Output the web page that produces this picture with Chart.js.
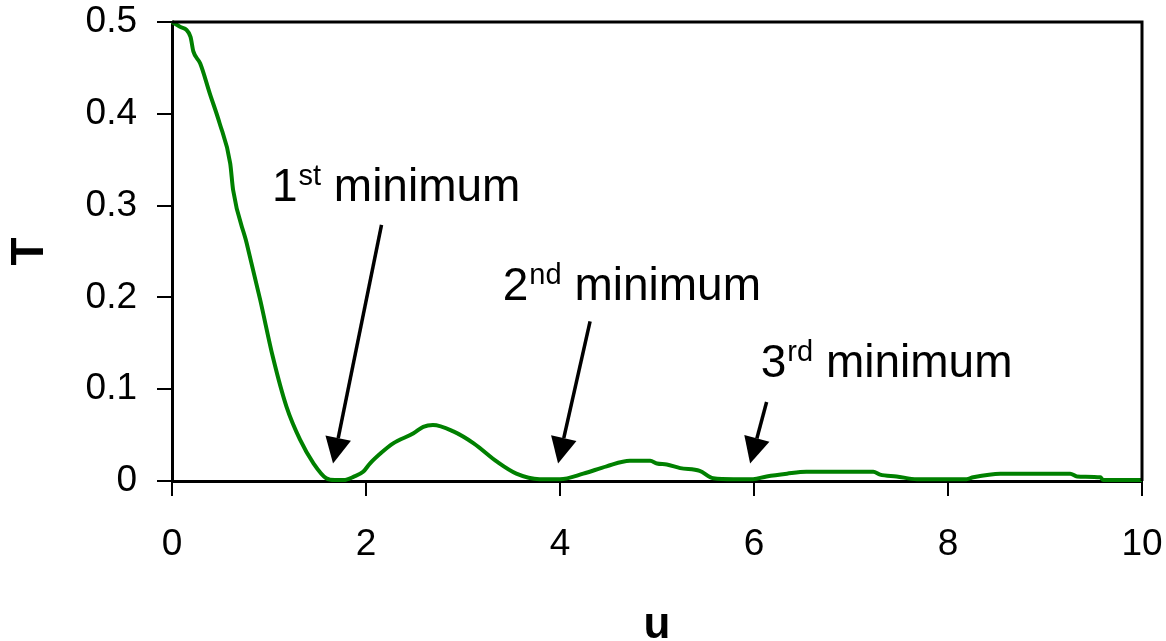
<!DOCTYPE html>
<html>
<head>
<meta charset="utf-8">
<script src="https://cdn.jsdelivr.net/npm/chart.js@4.4.1/dist/chart.umd.min.js"></script>
<style>
  body { margin: 0; background: #fff; }
  #wrap { width: 1166px; height: 641px; }
</style>
</head>
<body>
<div id="wrap"><canvas id="myChart"></canvas></div>
<script>
// curve
const uValues = [0, 0.08, 0.19, 0.22, 0.29, 0.39, 0.49, 0.60, 0.63, 0.77, 0.91, 1.04, 1.18, 1.32, 1.46, 1.59, 1.68, 1.77, 1.88, 1.97, 2.04, 2.16, 2.28, 2.49, 2.59, 2.69, 2.90, 3.11, 3.35, 3.55, 3.79, 4.00, 4.24, 4.48, 4.72, 4.93, 5.00, 5.10, 5.24, 5.44, 5.58, 5.79, 5.99, 6.13, 6.34, 6.54, 7.23, 7.30, 7.47, 7.68, 8.19, 8.26, 8.54, 9.26, 9.33, 9.57, 9.60, 10.0];
const tValues = [0.5, 0.495, 0.484, 0.468, 0.455, 0.422, 0.390, 0.346, 0.317, 0.259, 0.197, 0.135, 0.081, 0.045, 0.019, 0.003, 0.001, 0.001, 0.005, 0.010, 0.019, 0.031, 0.041, 0.052, 0.059, 0.061, 0.054, 0.041, 0.021, 0.008, 0.002, 0.002, 0.008, 0.016, 0.022, 0.022, 0.019, 0.018, 0.014, 0.011, 0.003, 0.002, 0.002, 0.005, 0.008, 0.010, 0.010, 0.007, 0.005, 0.002, 0.002, 0.004, 0.008, 0.008, 0.005, 0.004, 0.001, 0.001];

// annotations (data units)
const noteNums = ["1", "2", "3"];
const noteSups = ["st", "nd", "rd"];
const noteText = " minimum";
const noteU = [1.03, 3.41, 6.07];
const noteT = [0.305, 0.197, 0.113];
const arrowFromU = [2.16, 4.31, 6.13];
const arrowFromT = [0.279, 0.174, 0.086];
const arrowToU = [1.66, 3.98, 5.96];
const arrowToT = [0.019, 0.019, 0.019];

const FONT = "'Liberation Sans', Arial, sans-serif";

const points = uValues.map((u, i) => ({x: u, y: tValues[i]}));

const frameAndNotes = {
  id: 'frameAndNotes',
  afterDatasetsDraw(chart) {
    const ctx = chart.ctx;
    const a = chart.chartArea;
    const xs = chart.scales.x, ys = chart.scales.y;
    ctx.save();
    // top + right frame
    ctx.strokeStyle = '#000';
    ctx.lineWidth = 3;
    ctx.beginPath();
    ctx.moveTo(a.left, a.top);
    ctx.lineTo(a.right, a.top);
    ctx.lineTo(a.right, a.bottom);
    ctx.stroke();

    // arrows
    ctx.fillStyle = '#000';
    for (let i = 0; i < arrowFromU.length; i++) {
      const x1 = xs.getPixelForValue(arrowFromU[i]), y1 = ys.getPixelForValue(arrowFromT[i]);
      const x2 = xs.getPixelForValue(arrowToU[i]), y2 = ys.getPixelForValue(arrowToT[i]);
      const ang = Math.atan2(y2 - y1, x2 - x1);
      const headLen = 26, headW = 13;
      const bx = x2 - headLen * Math.cos(ang), by = y2 - headLen * Math.sin(ang);
      ctx.lineWidth = 3.5;
      ctx.beginPath();
      ctx.moveTo(x1, y1);
      ctx.lineTo(bx, by);
      ctx.stroke();
      ctx.beginPath();
      ctx.moveTo(x2, y2);
      ctx.lineTo(bx + headW * Math.sin(ang), by - headW * Math.cos(ang));
      ctx.lineTo(bx - headW * Math.sin(ang), by + headW * Math.cos(ang));
      ctx.closePath();
      ctx.fill();
    }

    // labels with superscripts
    ctx.textBaseline = 'alphabetic';
    ctx.textAlign = 'left';
    for (let i = 0; i < noteNums.length; i++) {
      let x = xs.getPixelForValue(noteU[i]);
      const y = ys.getPixelForValue(noteT[i]);
      ctx.font = '46px ' + FONT;
      ctx.fillText(noteNums[i], x, y);
      x += ctx.measureText(noteNums[i]).width;
      ctx.font = '29px ' + FONT;
      ctx.fillText(noteSups[i], x + 1, y - 16);
      x += ctx.measureText(noteSups[i]).width + 1;
      ctx.font = '46px ' + FONT;
      ctx.fillText(noteText, x, y);
    }
    ctx.restore();
  }
};

new Chart('myChart', {
  type: 'line',
  data: {
    datasets: [{
      data: points,
      borderColor: '#008000',
      borderWidth: 4,
      pointRadius: 0,
      fill: false,
      cubicInterpolationMode: 'monotone',
      clip: false
    }]
  },
  options: {
    responsive: true,
    maintainAspectRatio: false,
    animation: false,
    layout: { padding: 0 },
    plugins: { legend: { display: false }, tooltip: { enabled: false } },
    scales: {
      x: {
        type: 'linear',
        min: 0, max: 10,
        afterFit: s => { s.height = 160; s.paddingLeft = 0; s.paddingRight = 24; },
        ticks: { stepSize: 2, color: '#000', padding: 27, font: { family: FONT, size: 37 }, maxRotation: 0 },
        grid: { drawOnChartArea: false, drawTicks: true, tickLength: 15, color: '#000', lineWidth: 2 },
        border: { display: true, color: '#000', width: 3 },
        title: { display: true, text: 'u', color: '#000', font: { family: FONT, size: 44, weight: 'bold', lineHeight: 0.7 }, padding: { top: 0, bottom: 0 } }
      },
      y: {
        min: 0, max: 0.5,
        afterFit: s => { s.width = 172; s.paddingTop = 22; s.paddingBottom = 0; },
        ticks: { stepSize: 0.1, color: '#000', padding: 20, font: { family: FONT, size: 37 } },
        grid: { drawOnChartArea: false, drawTicks: true, tickLength: 15, color: '#000', lineWidth: 2 },
        border: { display: true, color: '#000', width: 3 },
        title: { display: true, text: 'T', color: '#000', font: { family: FONT, size: 46, weight: 'bold' }, padding: { top: 3, bottom: 0 } }
      }
    }
  },
  plugins: [frameAndNotes]
});
</script>
</body>
</html>
